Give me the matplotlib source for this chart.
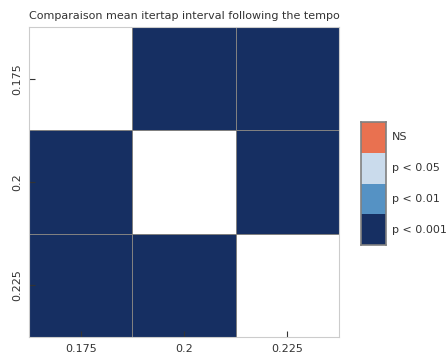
import numpy as np
import matplotlib
matplotlib.use("Agg")
import matplotlib.pyplot as plt
from matplotlib.colors import ListedColormap, BoundaryNorm

# tempo conditions compared
tempos = ['0.175', '0.2', '0.225']
# posthoc p-values (diagonal = self comparison)
pvals = np.array([
    [1.0,    0.0001, 0.0001],
    [0.0001, 1.0,    0.0001],
    [0.0001, 0.0001, 1.0],
])
legend_labels = ['p < 0.001', 'p < 0.01', 'p < 0.05', 'NS']
legend_colors = ['#162f62', '#5592c4', '#cadbec', '#e97150']

# significance level: 0 -> p<0.001, 1 -> p<0.01, 2 -> p<0.05, 3 -> NS
levels = np.digitize(pvals, [0.001, 0.01, 0.05]).astype(float)
np.fill_diagonal(levels, np.nan)

cmap = ListedColormap(legend_colors)
norm = BoundaryNorm([-0.5, 0.5, 1.5, 2.5, 3.5], cmap.N)

fig = plt.figure(figsize=(4.47, 3.56), dpi=100)
ax = fig.add_axes([29 / 447, 19 / 356, 310 / 447, 310 / 356])
ax.set_facecolor('white')
ax.pcolormesh(np.ma.masked_invalid(levels), cmap=cmap, norm=norm,
              edgecolors='#808080', linewidth=0.5)
ax.set_xlim(0, len(tempos))
ax.set_ylim(len(tempos), 0)
ax.set_xticks(np.arange(len(tempos)) + 0.5)
ax.set_yticks(np.arange(len(tempos)) + 0.5)
ax.set_xticklabels(tempos)
ax.set_yticklabels(tempos, rotation=90, va='center')
ax.tick_params(direction='in', length=4, width=0.8, color='#333333',
               labelsize=8, labelcolor='#333333', pad=5)
for s in ax.spines.values():
    s.set_color('#cccccc')
    s.set_linewidth(0.8)
ax.set_title('Comparaison mean itertap interval following the tempo',
             fontsize=8, color='#333333', pad=6)

# legend as a stacked colour box
cax = fig.add_axes([361 / 447, 111 / 356, 25 / 447, 123 / 356])
for i, c in enumerate(legend_colors):
    cax.bar(0, 1, bottom=i, width=1, color=c, edgecolor='none', align='edge')
    cax.text(1.25, i + 0.5, legend_labels[i], va='center', ha='left',
             fontsize=8, color='#333333', transform=cax.transData, clip_on=False)
cax.set_xlim(0, 1)
cax.set_ylim(0, len(legend_colors))
cax.set_xticks([])
cax.set_yticks([])
for s in cax.spines.values():
    s.set_color('#808080')
    s.set_linewidth(1.2)

fig.savefig('out.png', dpi=100)
